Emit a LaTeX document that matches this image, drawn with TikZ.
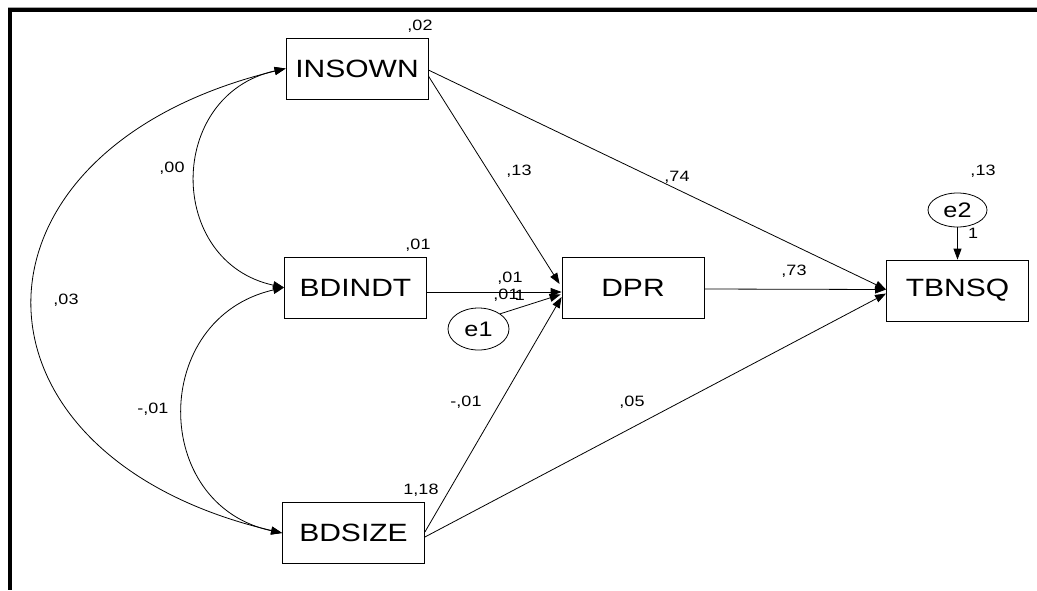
\documentclass[tikz,border=0pt]{standalone}
\usepackage{fontspec}
\setmainfont{Liberation Sans}[FakeStretch=1.2]
\usetikzlibrary{arrows.meta,shapes.geometric,calc}
\begin{document}
\begin{tikzpicture}[x=1pt,y=-1pt,
  varbox/.style={draw,line width=0.8pt,minimum width=142pt,minimum height=61pt,inner sep=0pt,font=\fontsize{25}{25}\selectfont},
  errnode/.style={draw,ellipse,line width=0.8pt,inner sep=0pt,font=\fontsize{21}{21}\selectfont},
  num/.style={font=\fontsize{15}{15}\selectfont,inner sep=0pt},
  path/.style={line width=0.8pt,-{Triangle[length=11pt,width=8pt]}},
  cov/.style={line width=0.8pt,{Triangle[length=11pt,width=8pt]}-{Triangle[length=11pt,width=8pt]}}]
\useasboundingbox (0,0) rectangle (1037,590);
\fill[white] (0,0) rectangle (1037,590);
% frame
\draw[gray!70,line width=1pt] (8,7) -- (1037,7);
\draw[black,line width=4pt] (8,9.5) -- (1037,9.5);
\draw[black,line width=4pt] (10,8) -- (10,590);
% nodes
\node[varbox] (insown) at (357,68.5) {INSOWN};
\node[varbox] (bdindt) at (355.5,287.5) {BDINDT};
\node[varbox] (bdsize) at (353.5,533) {BDSIZE};
\node[varbox] (dpr) at (633,287.5) {DPR};
\node[varbox] (tbnsq) at (957.5,290.5) {TBNSQ};
\node[errnode,minimum width=61pt,minimum height=42pt] (e1) at (478.5,329) {e1};
\node[errnode,minimum width=59pt,minimum height=34pt] (e2) at (957.5,210) {e2};
% endpoint coordinates
\coordinate (insA) at ($(insown.east)+(0,1.5)$);
\coordinate (insB) at ($(insown.east)+(0,7.5)$);
\coordinate (indA) at ($(bdindt.east)+(0,4.5)$);
\coordinate (sizA) at ($(bdsize.east)+(0,-1)$);
\coordinate (sizB) at ($(bdsize.east)+(0,4)$);
\coordinate (dprOut) at ($(dpr.east)+(0,1.5)$);
\coordinate (dprIn1) at ($(dpr.west)+(-2,-3.5)$);
\coordinate (dprIn2) at ($(dpr.west)+(0,4.5)$);
\coordinate (dprIn3) at ($(dpr.west)+(-1,7)$);
\coordinate (dprIn4) at ($(dpr.west)+(0,9.5)$);
\coordinate (tbIn1) at ($(tbnsq.west)+(0,-1)$);
\coordinate (tbIn2) at ($(tbnsq.west)+(0,3)$);
% directed paths
\draw[path] (insA) -- (tbIn1);
\draw[path] (insB) -- (dprIn1);
\draw[path] (indA) -- (dprIn2);
\draw[path] (e1.35) -- (dprIn3);
\draw[path] (sizA) -- (dprIn4);
\draw[path] (sizB) -- (tbIn2);
\draw[path] (dprOut) -- (tbIn1);
\draw[path] (e2.south) -- (tbnsq.north);
% covariances
\draw[cov] (insown.west) .. controls (166,95) and (166,262) .. (bdindt.west);
\draw[cov] (bdindt.west) .. controls (150,318) and (150,505) .. (bdsize.west);
\draw[cov] (insown.west) .. controls (-50,150) and (-50,455) .. (bdsize.west);
% labels
\node[num] (l1) at (420,26) {,02};
\node[num] (l2) at (418,245) {,01};
\node[num] (l3) at (421,490) {1,18};
\node[num] (l4) at (983,171) {,13};
\node[num] (l5) at (973,233) {1};
\node[num] (l6) at (519,171) {,13};
\node[num] (l7) at (677,177) {,74};
\node[num] (l8) at (172,168) {,00};
\node[num] (l9) at (66,300) {,03};
\node[num] (l10) at (153,409) {-,01};
\node[num] (l11) at (466,402) {-,01};
\node[num] (l12) at (632,402) {,05};
\node[num] (l13) at (794,271) {,73};
\node[num] (l14) at (510,278) {,01};
\node[num] (l15) at (506,295) {,01};
\node[num] (l16) at (520,295) {1};
\end{tikzpicture}
\end{document}
